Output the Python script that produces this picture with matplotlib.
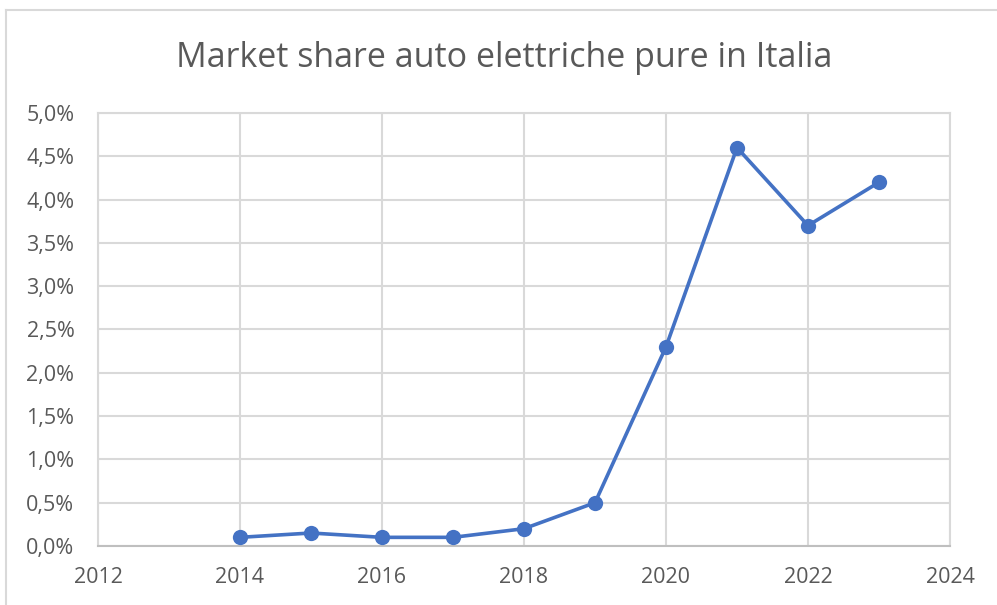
import numpy as np
import matplotlib
matplotlib.use("Agg")
import matplotlib.pyplot as plt
from matplotlib.ticker import FuncFormatter, MultipleLocator
from matplotlib.lines import Line2D

# dati: quota di mercato auto elettriche pure (%)
anni = [2014, 2015, 2016, 2017, 2018, 2019, 2020, 2021, 2022, 2023]
quota = [0.10, 0.15, 0.10, 0.10, 0.20, 0.50, 2.30, 4.60, 3.70, 4.20]
titolo = "Market share auto elettriche pure in Italia"

plt.rcParams['font.family'] = ['Open Sans', 'DejaVu Sans']
testo = '#595959'
griglia = '#D9D9D9'
blu = '#4472C4'

fig = plt.figure(figsize=(9.97, 6.05), dpi=100)
ax = fig.add_axes([98/997, 59/605, 852/997, 433/605])

ax.plot(anni, quota, color=blu, linewidth=2.6, marker='o', markersize=11,
        markeredgewidth=0, zorder=3)

# assi stile Excel
ax.set_xlim(2012, 2024)
ax.set_ylim(0, 5)
ax.xaxis.set_major_locator(MultipleLocator(2))
ax.yaxis.set_major_locator(MultipleLocator(0.5))
ax.yaxis.set_major_formatter(FuncFormatter(lambda v, p: f"{v:.1f}%".replace('.', ',')))
ax.grid(True, color=griglia, linewidth=1.5)
ax.set_axisbelow(True)
for s in ['left', 'right', 'top']:
    ax.spines[s].set_color(griglia)
    ax.spines[s].set_linewidth(1.5)
ax.spines['bottom'].set_color('#BFBFBF')
ax.spines['bottom'].set_linewidth(1.5)
ax.tick_params(length=0, labelsize=15.5, labelcolor=testo)
ax.tick_params(axis='x', pad=15)
ax.tick_params(axis='y', pad=17)

fig.text(0.506, 1 - 58/605, titolo, ha='center', va='center',
         fontsize=24.5, color=testo)

# bordo del grafico (sinistra e sopra)
fig.add_artist(Line2D([6/997, 6/997], [0, 1 - 10/605], transform=fig.transFigure,
                      color=griglia, linewidth=1.5))
fig.add_artist(Line2D([6/997, 1], [1 - 10/605, 1 - 10/605], transform=fig.transFigure,
                      color=griglia, linewidth=1.5))

fig.savefig("out.png", dpi=100)
